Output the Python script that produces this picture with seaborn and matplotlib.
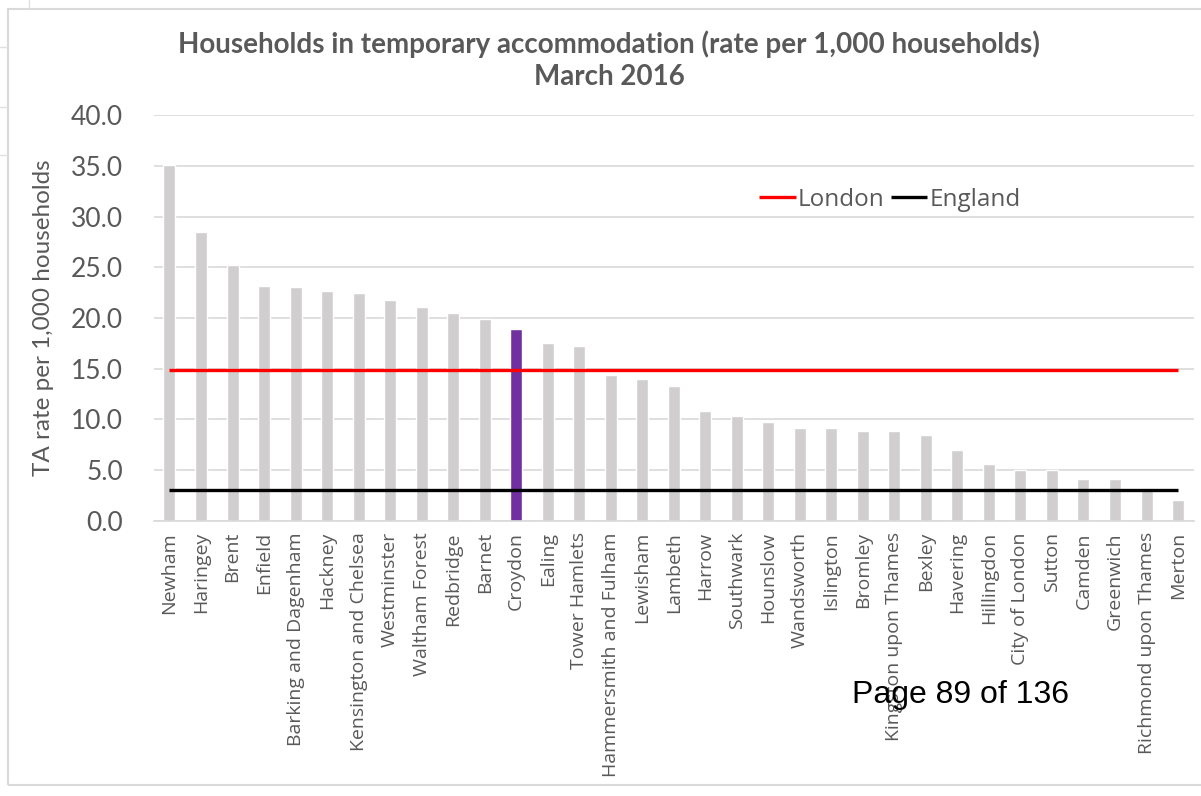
import matplotlib
matplotlib.use('Agg')
import matplotlib.pyplot as plt
import matplotlib.patches as mpatches
import seaborn as sns

boroughs = ['Newham', 'Haringey', 'Brent', 'Enfield', 'Barking and Dagenham', 'Hackney',
            'Kensington and Chelsea', 'Westminster', 'Waltham Forest', 'Redbridge', 'Barnet',
            'Croydon', 'Ealing', 'Tower Hamlets', 'Hammersmith and Fulham', 'Lewisham',
            'Lambeth', 'Harrow', 'Southwark', 'Hounslow', 'Wandsworth', 'Islington', 'Bromley',
            'Kingston upon Thames', 'Bexley', 'Havering', 'Hillingdon', 'City of London',
            'Sutton', 'Camden', 'Greenwich', 'Richmond upon Thames', 'Merton']
rates = [35.1, 28.5, 25.2, 23.2, 23.1, 22.7, 22.5, 21.8, 21.1, 20.5, 19.9,
         18.9, 17.5, 17.2, 14.4, 14.0, 13.3, 10.8, 10.3, 9.8, 9.2, 9.2, 8.9,
         8.9, 8.5, 7.0, 5.6, 5.0, 5.0, 4.1, 4.1, 3.2, 2.1]
london_rate = 14.9
england_rate = 3.1
highlight = 'Croydon'
yticks = [0, 5, 10, 15, 20, 25, 30, 35, 40]

TXT = '#595959'
bar_colors = ['#7030A0' if b == highlight else '#D0CECE' for b in boroughs]

sns.set_style('white')
plt.rcParams['font.family'] = ['Lato', 'DejaVu Sans']

fig = plt.figure(figsize=(12.01, 7.96), dpi=100)
ax = fig.add_axes([0.128, 0.3455, 0.866, 0.51])

# chart frame + spreadsheet grid peeking out on the left
fig.patches.append(mpatches.Rectangle((8 / 1201, 11 / 796), 1.0, 776 / 796, transform=fig.transFigure,
                                      fill=False, edgecolor='#D9D9D9', linewidth=1.5))
for yy in [47, 107, 155]:
    fig.add_artist(plt.Line2D([0, 7 / 1201], [1 - yy / 796] * 2, transform=fig.transFigure,
                              color='#E0E0E0', linewidth=1))
fig.add_artist(plt.Line2D([29 / 1201] * 2, [1, 1 - 9 / 796], transform=fig.transFigure,
                          color='#E0E0E0', linewidth=1))

sns.barplot(x=boroughs, y=rates, hue=boroughs, palette=bar_colors, legend=False,
            width=0.38, saturation=1, ax=ax, zorder=2)

n = len(boroughs)
ax.hlines(london_rate, 0, n - 1, color='#FF0000', linewidth=2.4, zorder=3, label='London')
ax.hlines(england_rate, 0, n - 1, color='black', linewidth=2.4, zorder=3, label='England')

ax.set_ylim(0, 40)
ax.set_xlim(-0.5, n - 0.5)
ax.set_yticks(yticks)
ax.set_yticklabels([f'{v:.1f}' for v in yticks], fontsize=19, color=TXT)
ax.set_xticks(range(n))
ax.set_xticklabels(boroughs, rotation=90, fontsize=14, color=TXT, family=['Open Sans', 'DejaVu Sans'])
ax.tick_params(axis='both', length=0)
ax.tick_params(axis='y', pad=22)
ax.tick_params(axis='x', pad=8)
ax.grid(axis='y', color='#D9D9D9', linewidth=1.2, zorder=0)
ax.set_axisbelow(True)
for s in ['top', 'right', 'left']:
    ax.spines[s].set_visible(False)
ax.spines['bottom'].set_color('#D9D9D9')
ax.spines['bottom'].set_linewidth(1.2)

ax.set_ylabel('TA rate per 1,000 households', fontsize=17.5, color=TXT, labelpad=12)
ax.set_xlabel('')

leg = ax.legend(loc='upper left', bbox_to_anchor=(0.561, 0.875), ncol=2, frameon=False,
                handlelength=1.5, handletextpad=0.1, columnspacing=0.25,
                prop={'family': ['Open Sans', 'DejaVu Sans'], 'size': 17.5})
for t in leg.get_texts():
    t.set_color(TXT)

fig.text(0.507, 1 - 30 / 796, 'Households in temporary accommodation (rate per 1,000 households)\nMarch 2016',
         ha='center', va='top', fontsize=20, fontweight='bold', color=TXT, linespacing=1.3)

fig.text(852 / 1201, 1 - 695 / 796, 'Page 89 of 136', ha='left', va='center', fontsize=23,
         color='black', family=['Liberation Sans', 'DejaVu Sans'])

fig.savefig('out.png', dpi=100)
